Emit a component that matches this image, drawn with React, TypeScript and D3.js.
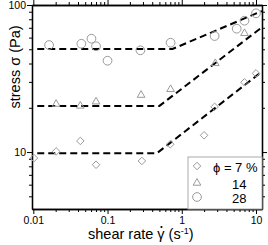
import React, { useEffect, useRef } from 'react';
import * as d3 from 'd3';

// shear rate (1/s) and stress (Pa)
const phi7Rate = [0.0102, 0.0203, 0.043, 0.07, 0.29, 0.7, 2.0, 2.77, 7.0, 10.0];
const phi7Stress = [9.1, 10.1, 11.9, 8.2, 8.7, 11.3, 13.0, 20.3, 29.8, 34.3];
const phi14Rate = [0.0203, 0.043, 0.07, 0.283, 0.707, 2.83, 7.0];
const phi14Stress = [21.2, 20.6, 22.0, 24.4, 26.7, 40.1, 64.2];
const phi28Rate = [0.0163, 0.0444, 0.0607, 0.07, 0.1, 0.277, 0.707, 2.77, 5.5, 7.0, 10.0];
const phi28Stress = [53.4, 54.5, 59.0, 52.4, 41.8, 49.2, 55.4, 61.5, 69.0, 78.2, 87.8];

// dashed fit lines: plateau then power law
const fitRate = [[0.0113, 0.46, 12], [0.0113, 0.5, 12], [0.0113, 0.75, 12]];
const fitStress = [[9.8, 9.8, 35.2], [20.6, 20.6, 70.5], [50.2, 50.2, 91]];

const legendLabels = ['ϕ =  7 %', '14', '28'];
const xMajor = [0.01, 0.1, 1, 10];
const xLabels = ['0.01', '0.1', '1', '10'];
const yMajor = [10, 100];

const W = 268, H = 245;
const left = 32, right = 262, top = 5, bottom = 209;
const grey = '#9a9a9a';
const font = 'Liberation Sans, Arial, sans-serif';

function minorTicks(lo: number, hi: number) {
  const out: number[] = [];
  for (let d = 0.001; d < 1000; d *= 10) {
    for (let k = 2; k <= 9; k++) {
      const v = +(d * k).toPrecision(3);
      if (v >= lo && v <= hi) out.push(v);
    }
  }
  return out;
}

export default function App() {
  const ref = useRef<SVGSVGElement>(null);

  useEffect(() => {
    const svg = d3.select(ref.current);
    svg.selectAll('*').remove();

    const x = d3.scaleLog().domain([0.0096, 12.05]).range([left, right]);
    const y = d3.scaleLog().domain([4.1, 100]).range([bottom, top]);

    const xMinor = minorTicks(0.0096, 12.05);
    const yMinor = minorTicks(4.1, 100);

    const styleAxis = (g: any) => {
      g.selectAll('path').attr('stroke', '#000').attr('stroke-width', 1.3);
      g.selectAll('line').attr('stroke', '#000').attr('stroke-width', 1);
      g.selectAll('text').attr('font-family', font).attr('font-size', 10.5).attr('fill', '#000');
    };

    // bottom
    svg.append('g').attr('transform', `translate(0,${bottom})`)
      .call(d3.axisBottom(x).tickValues(xMinor).tickSize(3).tickFormat(() => '').tickSizeOuter(0)).call(styleAxis);
    svg.append('g').attr('transform', `translate(0,${bottom})`)
      .call(d3.axisBottom(x).tickValues(xMajor).tickSize(5).tickPadding(3)
        .tickFormat((d, i) => xLabels[i]).tickSizeOuter(0)).call(styleAxis);
    // top
    svg.append('g').attr('transform', `translate(0,${top})`)
      .call(d3.axisTop(x).tickValues(xMinor).tickSize(3).tickFormat(() => '').tickSizeOuter(0)).call(styleAxis);
    svg.append('g').attr('transform', `translate(0,${top})`)
      .call(d3.axisTop(x).tickValues(xMajor).tickSize(5).tickFormat(() => '').tickSizeOuter(0)).call(styleAxis);
    // left
    svg.append('g').attr('transform', `translate(${left},0)`)
      .call(d3.axisLeft(y).tickValues(yMinor).tickSize(3).tickFormat(() => '').tickSizeOuter(0)).call(styleAxis);
    svg.append('g').attr('transform', `translate(${left},0)`)
      .call(d3.axisLeft(y).tickValues(yMajor).tickSize(5).tickPadding(1)
        .tickFormat(d => String(d)).tickSizeOuter(0)).call(styleAxis);
    // right
    svg.append('g').attr('transform', `translate(${right},0)`)
      .call(d3.axisRight(y).tickValues(yMinor).tickSize(3).tickFormat(() => '').tickSizeOuter(0)).call(styleAxis);
    svg.append('g').attr('transform', `translate(${right},0)`)
      .call(d3.axisRight(y).tickValues(yMajor).tickSize(5).tickFormat(() => '').tickSizeOuter(0)).call(styleAxis);

    // fit lines
    const line = d3.line<[number, number]>().x(d => x(d[0])).y(d => y(d[1]));
    fitRate.forEach((rates, i) => {
      const pts = rates.map((r, j) => [r, fitStress[i][j]] as [number, number]);
      svg.append('path').attr('d', line(pts)).attr('fill', 'none')
        .attr('stroke', '#000').attr('stroke-width', 2).attr('stroke-dasharray', '7,4');
    });

    const sym = [
      d3.symbol().type(d3.symbolDiamond2).size(36),
      d3.symbol().type(d3.symbolTriangle2).size(42),
      d3.symbol().type(d3.symbolCircle).size(60),
    ];
    const series = [
      [phi7Rate, phi7Stress],
      [phi14Rate, phi14Stress],
      [phi28Rate, phi28Stress],
    ];
    series.forEach(([rates, stresses], i) => {
      svg.append('g').selectAll('path').data(rates).join('path')
        .attr('d', sym[i]() as string)
        .attr('transform', (d, j) => `translate(${x(d)},${y(stresses[j])})`)
        .attr('fill', 'none').attr('stroke', grey).attr('stroke-width', 1);
    });

    // legend
    const lg = svg.append('g');
    lg.append('rect').attr('x', 188).attr('y', 157).attr('width', right - 188).attr('height', bottom - 157)
      .attr('fill', '#fff').attr('stroke', '#aaa').attr('stroke-width', 1);
    const rowY = [166, 183, 197];
    legendLabels.forEach((lab, i) => {
      lg.append('path').attr('d', sym[i]() as string).attr('transform', `translate(197,${rowY[i]})`)
        .attr('fill', 'none').attr('stroke', grey).attr('stroke-width', 1);
      lg.append('text').attr('x', i === 0 ? 213 : 232).attr('y', rowY[i] + 6)
        .attr('font-family', font).attr('font-size', 13).attr('fill', '#000').text(lab);
    });

    // titles
    const xt = svg.append('text').attr('x', 88).attr('y', 239)
      .attr('font-family', font).attr('font-size', 14.5).attr('fill', '#000');
    xt.append('tspan').text('shear rate γ (s');
    xt.append('tspan').attr('dy', -5).attr('font-size', 9).text('-1');
    xt.append('tspan').attr('dy', 5).text(')');
    const node = xt.node() as SVGTextElement;
    const gi = 'shear rate '.length;
    const g0 = node.getStartPositionOfChar(gi).x;
    const g1 = node.getEndPositionOfChar(gi).x;
    svg.append('circle').attr('cx', (g0 + g1) / 2 + 0.5).attr('cy', 227).attr('r', 1.1).attr('fill', '#000');

    svg.append('text').attr('transform', 'translate(20,67) rotate(-90)').attr('text-anchor', 'middle')
      .attr('font-family', font).attr('font-size', 14.5).attr('fill', '#000').text('stress σ (Pa)');
  }, []);

  return (
    <svg ref={ref} width={W} height={H} style={{ position: 'absolute', left: 0, top: 0, background: '#fff' }} />
  );
}
